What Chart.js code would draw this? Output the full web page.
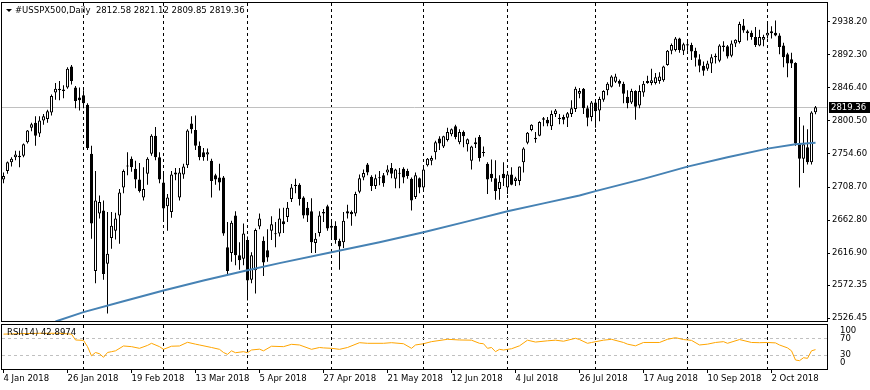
<!DOCTYPE html>
<html>
<head>
<meta charset="utf-8">
<script src="https://cdn.jsdelivr.net/npm/chart.js@4.4.1/dist/chart.umd.min.js"></script>
<style>
  body { margin: 0; background: #fff; }
  #wrap { position: relative; width: 870px; height: 390px; }
  #main { position: absolute; left: 0; top: 0; }
  #rsi { position: absolute; left: 0; top: 322px; }
</style>
</head>
<body>
<div id="wrap">
  <canvas id="main" width="870" height="322"></canvas>
  <canvas id="rsi" width="870" height="68"></canvas>
</div>
<script>
// daily bars, 4 Jan 2018 .. 17 Oct 2018 (index 0 .. 203)
const tickIdx = [0, 16, 32, 48, 64, 80, 96, 112, 128, 144, 160, 176, 192];
const tickLabels = ["4 Jan 2018", "26 Jan 2018", "19 Feb 2018", "13 Mar 2018", "5 Apr 2018", "27 Apr 2018",
  "21 May 2018", "12 Jun 2018", "4 Jul 2018", "26 Jul 2018", "17 Aug 2018", "10 Sep 2018", "2 Oct 2018"];
const separatorIdx = [20, 40, 61, 82, 105, 126, 148, 171, 191];
const priceTicks = [2938.20, 2892.30, 2846.40, 2800.50, 2754.60, 2708.70, 2662.80, 2616.90, 2572.35, 2526.45];
const rsiTickLabels = ["100", "70", "30", "0"];
const rsiLevels = [70, 30];

const open = [
  2719,2731,2743,2750,2752,2752,2771,2791,2798,2783,
  2801,2803,2812,2840,2845,2844,2847,2876,2847,2833,
  2836,2823,2755,2592,2672,2676,2602,2638,2648,2669,
  2708,2737,2748,2734,2719,2694,2727,2755,2780,2750,
  2715,2682,2674,2726,2694,2726,2739,2797,2788,2766,
  2757,2754,2745,2725,2722,2722,2625,2617,2669,2614,
  2609,2635,2580,2593,2654,2634,2621,2648,2643,2644,
  2661,2667,2692,2712,2712,2694,2680,2675,2631,2645,
  2674,2682,2655,2655,2634,2632,2675,2674,2672,2702,
  2722,2740,2723,2710,2722,2725,2729,2735,2720,2728,
  2734,2731,2720,2695,2721,2708,2739,2745,2757,2776,
  2765,2774,2782,2793,2771,2785,2768,2745,2771,2778,
  2756,2741,2727,2721,2706,2727,2708,2726,2717,2717,
  2743,2770,2788,2777,2780,2804,2802,2793,2810,2805,
  2806,2805,2810,2817,2838,2845,2818,2806,2826,2815,
  2830,2843,2848,2855,2856,2852,2834,2826,2842,2822,
  2840,2853,2853,2853,2856,2857,2878,2898,2899,2915,
  2898,2907,2906,2898,2886,2877,2873,2880,2889,2884,
  2903,2904,2891,2908,2910,2933,2925,2923,2917,2905,
  2913,2919,2922,2923,2919,2905,2893,2886,2881,2769,
  2748,2764,2743,2812.58
];
const high = [
  2729,2744,2750,2759,2759,2769,2788,2798,2807,2807,
  2810,2816,2837,2853,2856,2850,2875,2878,2849,2847,
  2843,2825,2766,2731,2697,2690,2674,2674,2673,2706,
  2733,2757,2751,2745,2742,2736,2750,2782,2792,2757,
  2729,2699,2731,2735,2735,2741,2789,2807,2808,2772,
  2763,2762,2748,2727,2741,2724,2660,2662,2675,2632,
  2658,2640,2618,2651,2672,2640,2650,2668,2660,2679,
  2680,2688,2713,2720,2714,2696,2688,2693,2645,2675,
  2678,2684,2660,2661,2637,2674,2684,2676,2702,2726,
  2733,2742,2725,2726,2731,2728,2739,2742,2734,2735,
  2736,2734,2722,2729,2722,2737,2749,2752,2773,2779,
  2780,2791,2790,2795,2789,2787,2776,2766,2777,2781,
  2765,2743,2747,2746,2725,2743,2727,2736,2723,2737,
  2764,2785,2796,2785,2800,2806,2806,2815,2817,2810,
  2809,2813,2829,2848,2846,2846,2822,2828,2829,2834,
  2843,2854,2864,2866,2858,2855,2843,2845,2843,2850,
  2856,2863,2873,2867,2868,2877,2899,2908,2917,2916,
  2909,2911,2909,2902,2893,2883,2884,2893,2894,2907,
  2911,2906,2912,2914,2938,2942,2927,2926,2931,2927,
  2920,2937,2932,2940,2922,2909,2895,2895,2882,2806,
  2794,2789,2814,2821.12
];
const low = [
  2714,2727,2737,2746,2736,2750,2769,2786,2766,2778,
  2795,2798,2808,2830,2829,2832,2845,2851,2818,2815,
  2818,2760,2637,2575,2665,2580,2533,2623,2636,2630,
  2700,2725,2730,2707,2701,2690,2712,2752,2746,2714,
  2662,2648,2666,2718,2690,2720,2735,2783,2760,2746,
  2745,2745,2694,2712,2704,2641,2586,2605,2600,2594,
  2600,2551,2575,2561,2650,2585,2605,2635,2625,2640,
  2645,2660,2688,2700,2683,2665,2660,2617,2617,2640,
  2660,2648,2635,2630,2594,2624,2665,2655,2668,2700,
  2718,2725,2703,2706,2711,2709,2725,2721,2707,2707,
  2714,2720,2676,2692,2700,2706,2737,2739,2747,2760,
  2763,2772,2779,2775,2768,2764,2758,2733,2763,2744,
  2751,2699,2716,2691,2691,2710,2699,2711,2710,2711,
  2729,2768,2786,2770,2779,2793,2793,2788,2806,2796,
  2796,2792,2806,2813,2832,2810,2793,2800,2791,2800,
  2827,2836,2847,2853,2848,2825,2818,2824,2802,2818,
  2834,2852,2850,2851,2852,2855,2877,2893,2897,2895,
  2892,2898,2885,2876,2868,2863,2870,2867,2880,2882,
  2897,2887,2889,2903,2908,2923,2912,2913,2903,2904,
  2904,2915,2915,2918,2893,2875,2861,2874,2766,2708,
  2728,2740,2740,2809.85
];
const close = [
  2724,2743,2748,2754,2750,2768,2787,2796,2780,2801,
  2807,2814,2835,2845,2843,2842,2873,2856,2828,2829,
  2825,2763,2658,2690,2688,2588,2616,2655,2665,2701,
  2731,2738,2736,2719,2703,2706,2748,2780,2750,2719,
  2679,2694,2726,2729,2729,2737,2787,2789,2766,2750,
  2750,2757,2717,2719,2715,2644,2592,2659,2614,2607,
  2644,2579,2614,2649,2665,2604,2611,2657,2643.5,2665,
  2657,2680,2708,2710,2692,2669,2669,2632,2637,2669,
  2672,2651,2652,2635,2626,2662,2672,2671,2699,2721,
  2728,2729,2710,2721,2721,2714,2733,2727,2733,2727,
  2722,2724,2690,2725,2708,2733,2748,2749,2771,2769,
  2779,2785,2789,2778,2785,2779,2775,2765,2768,2749,
  2757,2719,2721,2703,2716,2721,2726,2712,2721,2737,
  2762,2784,2795,2775,2799,2802,2797,2810,2815,2803,
  2802,2811,2818,2845,2842,2818,2805,2826,2814,2831,
  2842,2852,2862,2862,2852,2838,2825,2842,2820,2842,
  2852,2856,2857,2861,2862,2876,2898,2906,2915,2899,
  2907,2905,2897,2888,2877,2870,2880,2889,2891,2905,
  2905,2890,2908,2913,2935,2926,2922,2917,2906,2917,
  2917,2923,2925,2919,2903,2889,2880,2880,2769,2748,
  2768,2743,2812,2819.36
];

// moving average
const maIdx = [13, 20, 30, 40, 50, 61, 69, 82, 94, 105, 116, 126, 135, 144, 148, 160, 171, 181, 191, 198, 203];
const maVal = [2522, 2535, 2550, 2565, 2579, 2593, 2603, 2618, 2632, 2646, 2661, 2675, 2686, 2697, 2703, 2720, 2737, 2750, 2762, 2768, 2770];

// RSI(14)
const rsiIdx = [0,4,9,14,17,18,20,21,22,23,24,25,26,27,28,30,32,34,36,37,39,40,42,44,46,48,49,52,54,55,
  56,57,58,60,61,62,64,65,67,70,72,74,77,79,80,82,84,86,89,91,95,97,100,102,103,105,107,111,114,117,
  119,120,121,122,123,124,125,127,129,131,133,136,138,140,143,144,146,147,150,152,155,156,158,160,164,
  166,168,170,172,174,176,178,180,181,184,187,189,191,193,194,196,197,198,199,200,201,202,203];
const rsiVal = [80,81,82,82,80,66,65,50,28,36,33,24.5,36,38,40,51.6,50,46,53,58,50,43.6,51,51.6,60.4,56,54,48,43.6,36,
  31.6,40,35.5,38,35.5,42,44,40,51,50,55.6,54,43.6,48,47,46,43.6,48,59.5,58,58,59.5,57,46,54,57,62,67.6,66,65.5,
  58,57,46,48,38,43.6,42,45,52,65.5,61,64,65.5,63,70,67,58,60,65.5,67.6,60,56,52,60,60,
  67.6,71.5,67,65,54,56,60,62,58,67,60,59.5,60,59,54,47,40,18,16.4,23.5,22,40,42.8974];

const symbol = "#USSPX500,Daily";
const rsiName = "RSI(14)";

const FONT = "'DejaVu Sans', Verdana, sans-serif";
const FSIZE = 8.5;
Chart.defaults.font.family = FONT;
Chart.defaults.color = "#000";

const last = close.length - 1;
const fmt = v => v.toFixed(2);

const xScale = {
  type: "linear",
  min: -0.375,
  max: 205.875,
  offset: false,
};

// keep the plot area exactly where the layout padding puts it
const noPad = s => { s.paddingTop = 0; s.paddingBottom = 0; s.paddingLeft = 0; s.paddingRight = 0; };

// dashed monthly separators, shared by both panels
function drawSeparators(chart) {
  const { ctx, chartArea: a, scales } = chart;
  ctx.save();
  ctx.strokeStyle = "#000";
  ctx.lineWidth = 1;
  ctx.setLineDash([3, 3]);
  separatorIdx.forEach(i => {
    const px = Math.floor(scales.x.getPixelForValue(i)) + 0.5;
    ctx.beginPath();
    ctx.moveTo(px, a.top);
    ctx.lineTo(px, a.bottom);
    ctx.stroke();
  });
  ctx.restore();
}

function drawFrame(chart) {
  const { ctx, chartArea: a } = chart;
  ctx.save();
  ctx.strokeStyle = "#000";
  ctx.lineWidth = 1;
  ctx.strokeRect(a.left - 0.5, a.top - 0.5, a.right - a.left + 1, a.bottom - a.top + 1);
  ctx.restore();
}

const mainDecor = {
  id: "mainDecor",
  beforeDatasetsDraw(chart) {
    const { ctx, chartArea: a, scales } = chart;
    drawSeparators(chart);
    const py = Math.floor(scales.y.getPixelForValue(close[last])) + 0.5;
    ctx.save();
    ctx.strokeStyle = "#c0c0c0";
    ctx.lineWidth = 1;
    ctx.beginPath();
    ctx.moveTo(a.left, py);
    ctx.lineTo(a.right, py);
    ctx.stroke();
    ctx.restore();
  },
  afterDraw(chart) {
    const { ctx, scales } = chart;
    drawFrame(chart);
    ctx.save();
    // header
    ctx.fillStyle = "#000";
    ctx.beginPath();
    ctx.moveTo(6, 9);
    ctx.lineTo(12, 9);
    ctx.lineTo(9, 12);
    ctx.closePath();
    ctx.fill();
    ctx.font = FSIZE + "px " + FONT;
    ctx.textBaseline = "middle";
    ctx.textAlign = "left";
    const head = symbol + "  " + [open[last], high[last], low[last], close[last]].map(fmt).join(" ");
    ctx.fillText(head, 15, 11);
    // last price box
    const py = Math.floor(scales.y.getPixelForValue(close[last]));
    ctx.fillRect(829, py - 5, 41, 11);
    ctx.fillStyle = "#fff";
    ctx.fillText(fmt(close[last]), 831, py + 0.5);
    ctx.restore();
  }
};

new Chart(document.getElementById("main"), {
  type: "bar",
  data: {
    datasets: [
      {
        type: "line",
        data: maIdx.map((i, k) => ({ x: i, y: maVal[k] })),
        borderColor: "#4682b4",
        borderWidth: 2,
        pointRadius: 0,
        tension: 0,
      },
      {
        data: close.map((c, i) => ({ x: i, y: [open[i], c] })),
        backgroundColor: close.map((c, i) => (c >= open[i] ? "#fff" : "#000")),
        borderColor: "#000",
        borderWidth: 1,
        borderSkipped: false,
        barThickness: 3,
        minBarLength: 1,
        inflateAmount: 0,
        grouped: false,
      },
      {
        data: high.map((h, i) => ({ x: i, y: [low[i], h] })),
        backgroundColor: "#000",
        borderWidth: 0,
        barThickness: 1,
        inflateAmount: 0,
        grouped: false,
      },
    ],
  },
  options: {
    responsive: false,
    animation: false,
    devicePixelRatio: 1,
    layout: { autoPadding: false, padding: { left: 2, top: 3, right: 0, bottom: 1 } },
    plugins: { legend: { display: false }, tooltip: { enabled: false } },
    scales: {
      x: { ...xScale, display: false },
      y: {
        position: "right",
        min: 2522.68,
        max: 2964.16,
        afterBuildTicks: s => { s.ticks = priceTicks.map(v => ({ value: v })); },
        afterFit: s => { s.width = 43; noPad(s); },
        ticks: { callback: v => fmt(v), font: { size: FSIZE }, padding: 2, autoSkip: false },
        grid: { drawOnChartArea: false, drawTicks: true, tickLength: 3, color: "#000" },
        border: { display: false },
      },
    },
  },
  plugins: [mainDecor],
});

// RSI panel (labels sit where the terminal puts them)
const rsiLabelPos = [88.2, 70, 30, 12.5];

const rsiDecor = {
  id: "rsiDecor",
  beforeDatasetsDraw(chart) {
    const { ctx, chartArea: a, scales } = chart;
    drawSeparators(chart);
    ctx.save();
    ctx.strokeStyle = "#c0c0c0";
    ctx.lineWidth = 1;
    ctx.setLineDash([3, 3]);
    rsiLevels.forEach(v => {
      const py = Math.floor(scales.y.getPixelForValue(v)) + 0.5;
      ctx.beginPath();
      ctx.moveTo(a.left, py);
      ctx.lineTo(a.right, py);
      ctx.stroke();
    });
    ctx.restore();
  },
  afterDraw(chart) {
    const { ctx } = chart;
    drawFrame(chart);
    ctx.save();
    ctx.fillStyle = "#000";
    ctx.font = FSIZE + "px " + FONT;
    ctx.textBaseline = "middle";
    ctx.fillText(rsiName + " " + rsiVal[rsiVal.length - 1].toFixed(4), 7, 11);
    ctx.restore();
  }
};

new Chart(document.getElementById("rsi"), {
  type: "line",
  data: {
    datasets: [{
      data: rsiIdx.map((i, k) => ({ x: i, y: rsiVal[k] })),
      borderColor: "#ffa500",
      borderWidth: 1,
      pointRadius: 0,
      tension: 0,
    }],
  },
  options: {
    responsive: false,
    animation: false,
    devicePixelRatio: 1,
    layout: { autoPadding: false, padding: { left: 2, top: 3, right: 0, bottom: 0 } },
    plugins: { legend: { display: false }, tooltip: { enabled: false } },
    scales: {
      x: {
        ...xScale,
        afterBuildTicks: s => { s.ticks = tickIdx.map(v => ({ value: v })); },
        afterFit: s => { s.height = 21; noPad(s); },
        ticks: {
          callback: v => tickLabels[tickIdx.indexOf(v)],
          align: "start",
          autoSkip: false,
          maxRotation: 0,
          font: { size: FSIZE },
          padding: 1,
        },
        grid: { drawOnChartArea: false, drawTicks: true, tickLength: 4, color: "#000" },
        border: { display: false },
      },
      y: {
        position: "right",
        min: -3.53,
        max: 101.86,
        afterBuildTicks: s => { s.ticks = rsiLabelPos.map(v => ({ value: v })); },
        afterFit: s => { s.width = 43; noPad(s); },
        ticks: { callback: (v, k) => rsiTickLabels[k], font: { size: FSIZE }, padding: 5, autoSkip: false },
        grid: { display: false },
        border: { display: false },
      },
    },
  },
  plugins: [rsiDecor],
});
</script>
</body>
</html>
